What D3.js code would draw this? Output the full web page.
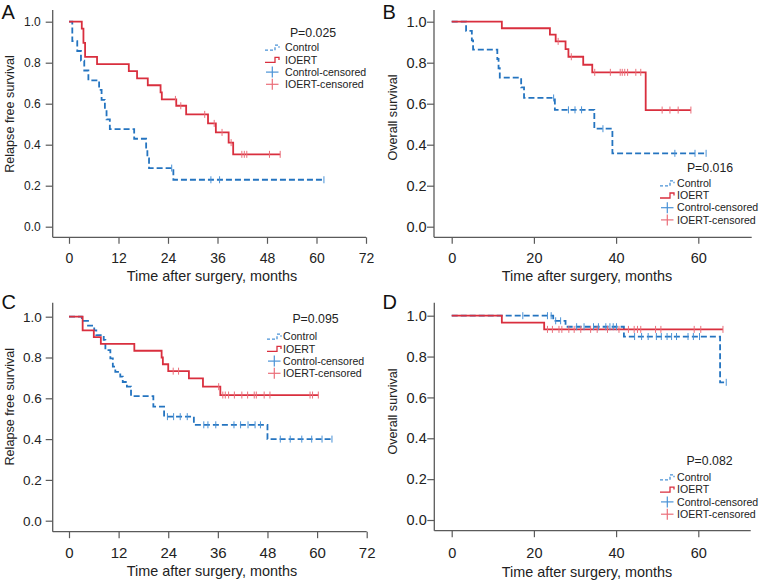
<!DOCTYPE html>
<html><head><meta charset="utf-8">
<script src="https://cdn.jsdelivr.net/npm/d3@7"></script>
<style>body{margin:0;background:#fff}svg{display:block;font-family:"Liberation Sans",Arial,Helvetica,sans-serif}</style>
</head><body><svg id="c" width="760" height="580"></svg>
<script>
// ---------- data ----------
const panelLetters = ["A", "B", "C", "D"];
const pLabels = ["P=0.025", "P=0.016", "P=0.095", "P=0.082"];
const yTitles = ["Relapse free survival", "Overall survival", "Relapse free survival", "Overall survival"];
const xTitle = "Time after surgery, months";
const legendLabels = ["Control", "IOERT", "Control-censored", "IOERT-censored"];
const yTicks = [0, 0.2, 0.4, 0.6, 0.8, 1.0];
const xTicks12 = [0, 12, 24, 36, 48, 60, 72];
const xTicks20 = [0, 20, 40, 60];

// Panel A (relapse free survival)
const aCtrlT = [0.8, 2.0, 2.9, 3.7, 4.7, 7.3, 7.9, 8.7, 9.1, 9.9, 15.8, 18.7, 19.0, 19.4, 25.3];
const aCtrlS = [0.905, 0.857, 0.810, 0.762, 0.714, 0.667, 0.619, 0.571, 0.524, 0.476, 0.429, 0.381, 0.333, 0.286, 0.229];
const aCtrlCens = [24.9, 34.4, 36.5, 61.8];
const aIoertT = [3.1, 3.5, 3.9, 6.8, 14.5, 16.5, 19.1, 22.2, 22.5, 26.0, 28.4, 33.7, 35.6, 38.7, 39.8];
const aIoertS = [0.966, 0.897, 0.828, 0.793, 0.759, 0.724, 0.690, 0.655, 0.621, 0.590, 0.548, 0.504, 0.460, 0.410, 0.353];
const aIoertCens = [25.8, 27.1, 32.9, 35.2, 37.1, 39.3, 41.9, 42.5, 43.1, 48.6, 51.2];

// Panel B (overall survival)
const bCtrlT = [3.5, 4.9, 5.2, 11.1, 11.4, 11.7, 16.9, 17.6, 25.1, 34.7, 39.1];
const bCtrlS = [0.955, 0.909, 0.864, 0.818, 0.773, 0.727, 0.680, 0.628, 0.570, 0.478, 0.358];
const bCtrlCens = [24.8, 28.4, 30.0, 31.6, 36.8, 54.3, 59.2, 61.9];
const bIoertT = [12.2, 23.9, 25.3, 27.7, 28.4, 32.0, 34.2, 47.2];
const bIoertS = [0.968, 0.937, 0.904, 0.866, 0.829, 0.790, 0.753, 0.569];
const bIoertCens = [25.9, 29.1, 34.8, 38.6, 41.0, 41.5, 42.1, 42.8, 44.8, 46.0, 51.2, 53.1, 55.1, 58.2];

// Panel C (relapse free survival)
const cCtrlT = [3.1, 4.6, 6.1, 6.6, 8.4, 8.8, 10.0, 10.6, 11.2, 12.4, 13.0, 14.0, 15.0, 20.4, 23.0, 30.2, 48.0];
const cCtrlS = [0.980, 0.956, 0.933, 0.910, 0.886, 0.836, 0.796, 0.755, 0.730, 0.706, 0.680, 0.657, 0.611, 0.559, 0.510, 0.470, 0.400];
const cCtrlCens = [23.8, 25.3, 26.9, 28.6, 32.6, 33.6, 35.5, 39.9, 41.5, 43.3, 45.0, 46.3, 51.1, 53.5, 56.3, 58.7, 61.2, 63.6];
const cIoertT = [3.3, 6.0, 7.7, 15.8, 22.4, 22.7, 24.0, 29.0, 32.4, 36.6];
const cIoertS = [0.933, 0.900, 0.867, 0.833, 0.800, 0.767, 0.733, 0.698, 0.657, 0.616];
const cIoertCens = [25.2, 26.5, 36.2, 37.2, 37.8, 38.6, 40.0, 41.8, 43.2, 44.8, 45.3, 47.2, 48.6, 58.3, 58.9, 60.3];

// Panel D (overall survival)
const dCtrlT = [24.7, 27.7, 41.9, 65.3];
const dCtrlS = [0.975, 0.946, 0.898, 0.674];
const dCtrlCens = [17.3, 23.3, 24.2, 25.3, 26.5, 30.4, 32.2, 34.5, 35.7, 37.5, 38.5, 39.3, 40.1, 44.5, 46.2, 47.8, 49.8, 51.0, 52.4, 53.5, 54.7, 57.5, 58.8, 60.3, 66.8];
const dIoertT = [12.2, 22.5];
const dIoertS = [0.966, 0.933];
const dIoertCens = [23.3, 24.5, 26.1, 26.8, 28.5, 29.8, 31.4, 33.8, 35.4, 37.9, 40.7, 43.0, 44.4, 45.2, 46.0, 49.6, 50.9, 59.0, 60.6, 66.0];

// ---------- layout ----------
const layout = [
  {xd:[0,72], xr:[69,366], spineX:[52.7,366], yr:[226.7,21.7], spineY:[237.3,10], xt:xTicks12,
   yLabR:40.7, yTickFs:12, xTickFs:14, xLabBase:262.7, xTitleX:212, xTitleBase:281,
   yTitle:[10,114], letter:[1.5,18.5],
   leg:{px:313, pb:36.5, sx:265, tx:285, ty:47.7, dy:12.2}},
  {xd:[0,60], xr:[451.7,698.3], spineX:[434,751.7], yr:[226.7,21.7], spineY:[237.3,10], xt:xTicks20,
   yLabR:426.7, yTickFs:14.5, xTickFs:14.5, xLabBase:263, xTitleX:587, xTitleBase:281,
   yTitle:[393,117.5], letter:[382.5,18.5],
   leg:{px:710, pb:172.3, sx:660, tx:677, ty:183.3, dy:12.2}},
  {xd:[0,72], xr:[69,366.7], spineX:[52.7,366.7], yr:[520.7,316.7], spineY:[531.7,302.7], xt:xTicks12,
   yLabR:41.7, yTickFs:13.5, xTickFs:15, xLabBase:558.3, xTitleX:212, xTitleBase:576,
   yTitle:[10,406.7], letter:[1.5,308.5],
   leg:{px:315.5, pb:323.3, sx:267, tx:283, ty:336.7, dy:12.2}},
  {xd:[0,60], xr:[451.7,698.3], spineX:[434.3,750.7], yr:[520,315.7], spineY:[530.7,302.7], xt:xTicks20,
   yLabR:426.7, yTickFs:14.5, xTickFs:14.5, xLabBase:558.3, xTitleX:587, xTitleBase:576.5,
   yTitle:[393,411.5], letter:[382.5,309],
   leg:{px:709.5, pb:465, sx:660, tx:677, ty:477.3, dy:12.3}}
];

const series = [
  {ct:aCtrlT, cs:aCtrlS, cc:aCtrlCens, it:aIoertT, is:aIoertS, ic:aIoertCens},
  {ct:bCtrlT, cs:bCtrlS, cc:bCtrlCens, it:bIoertT, is:bIoertS, ic:bIoertCens},
  {ct:cCtrlT, cs:cCtrlS, cc:cCtrlCens, it:cIoertT, is:cIoertS, ic:cIoertCens},
  {ct:dCtrlT, cs:dCtrlS, cc:dCtrlCens, it:dIoertT, is:dIoertS, ic:dIoertCens}
];

const RED = "#d92f3e", BLUE = "#2474c0";
const RED_L = "#ea6f7a", BLUE_L = "#4a92d6";
const AXIS = "#5a5a5a", TXT = "#222";

const svg = d3.select("#c");

function survAt(T, S, t) {
  let s = 1;
  for (let i = 0; i < T.length; i++) if (T[i] <= t) s = S[i];
  return s;
}

function stepPath(x, y, T, S, cens) {
  const end = Math.max(d3.max(T), d3.max(cens));
  let d = `M${x(0)},${y(1)}`;
  T.forEach((t, i) => { d += `H${x(t)}V${y(S[i])}`; });
  d += `H${x(end)}`;
  return d;
}

layout.forEach((L, k) => {
  const D = series[k];
  const g = svg.append("g");
  const x = d3.scaleLinear().domain(L.xd).range(L.xr);
  const y = d3.scaleLinear().domain([0, 1]).range(L.yr);

  // spines
  g.append("line").attr("x1", L.spineX[0]).attr("x2", L.spineX[1])
    .attr("y1", L.spineY[0]).attr("y2", L.spineY[0]).attr("stroke", AXIS).attr("stroke-width", 1.3);
  g.append("line").attr("x1", L.spineX[0]).attr("x2", L.spineX[0])
    .attr("y1", L.spineY[0]).attr("y2", L.spineY[1]).attr("stroke", AXIS).attr("stroke-width", 1.3);

  // y axis
  const ya = g.append("g").attr("transform", `translate(${L.spineX[0]},0)`)
    .call(d3.axisLeft(y).tickValues(yTicks).tickFormat(d3.format(".1f")).tickSize(7).tickSizeOuter(0)
      .tickPadding(L.spineX[0] - 7 - L.yLabR));
  ya.select(".domain").remove();
  ya.selectAll(".tick line").attr("stroke", AXIS).attr("stroke-width", 1.2);
  ya.selectAll(".tick text").attr("fill", TXT).style("font-size", L.yTickFs + "px")
    .style("font-family", '"Liberation Sans",Arial,sans-serif');

  // x axis
  const xa = g.append("g").attr("transform", `translate(0,${L.spineY[0]})`)
    .call(d3.axisBottom(x).tickValues(L.xt).tickFormat(d3.format("d")).tickSize(6.5).tickSizeOuter(0));
  xa.select(".domain").remove();
  xa.selectAll(".tick line").attr("stroke", AXIS).attr("stroke-width", 1.2);
  xa.selectAll(".tick text").attr("fill", TXT).style("font-size", L.xTickFs + "px")
    .style("font-family", '"Liberation Sans",Arial,sans-serif')
    .attr("y", L.xLabBase - L.spineY[0]).attr("dy", null);

  // titles
  g.append("text").attr("x", L.xTitleX).attr("y", L.xTitleBase).attr("text-anchor", "middle")
    .attr("fill", TXT).style("font-size", "14.4px").text(xTitle);
  g.append("text").attr("transform", `translate(${L.yTitle[0]},${L.yTitle[1]}) rotate(-90)`)
    .attr("text-anchor", "middle").attr("dy", "0.35em").attr("fill", TXT)
    .style("font-size", "12.6px").text(yTitles[k]);
  g.append("text").attr("x", L.letter[0]).attr("y", L.letter[1]).attr("fill", "#111")
    .style("font-size", "20px").text(panelLetters[k]);

  // curves
  g.append("path").attr("d", stepPath(x, y, D.ct, D.cs, D.cc)).attr("fill", "none")
    .attr("stroke", BLUE).attr("stroke-width", 1.8).attr("stroke-dasharray", "6,3");
  g.append("path").attr("d", stepPath(x, y, D.it, D.is, D.ic)).attr("fill", "none")
    .attr("stroke", RED).attr("stroke-width", 1.8);

  // censor marks
  g.selectAll(".cc").data(D.cc).enter().append("line")
    .attr("x1", t => x(t)).attr("x2", t => x(t))
    .attr("y1", t => y(survAt(D.ct, D.cs, t)) - 3.5).attr("y2", t => y(survAt(D.ct, D.cs, t)) + 3.5)
    .attr("stroke", BLUE_L).attr("stroke-width", 1);
  g.selectAll(".ic").data(D.ic).enter().append("line")
    .attr("x1", t => x(t)).attr("x2", t => x(t))
    .attr("y1", t => y(survAt(D.it, D.is, t)) - 3.5).attr("y2", t => y(survAt(D.it, D.is, t)) + 3.5)
    .attr("stroke", RED_L).attr("stroke-width", 1);

  // legend
  const lg = L.leg;
  g.append("text").attr("x", lg.px).attr("y", lg.pb).attr("text-anchor", "middle")
    .attr("fill", TXT).style("font-size", "12.3px").text(pLabels[k]);
  legendLabels.forEach((lab, i) => {
    const cy = lg.ty + i * lg.dy;
    g.append("text").attr("x", lg.tx).attr("y", cy).attr("dy", "0.35em").attr("fill", TXT)
      .style("font-size", "10.6px").text(lab);
    const sx = lg.sx;
    if (i < 2) {
      g.append("path").attr("d", `M${sx},${cy + 2.5}H${sx + 10}V${cy - 2.5}H${sx + 14}V${cy}`)
        .attr("fill", "none").attr("stroke", i === 0 ? BLUE_L : RED).attr("stroke-width", 1.3)
        .attr("stroke-dasharray", i === 0 ? "3,2" : null);
    } else {
      const c = i === 2 ? BLUE_L : RED_L;
      g.append("line").attr("x1", sx + 1).attr("x2", sx + 13.5).attr("y1", cy).attr("y2", cy)
        .attr("stroke", c).attr("stroke-width", 1.2);
      g.append("line").attr("x1", sx + 7.3).attr("x2", sx + 7.3).attr("y1", cy - 5.5).attr("y2", cy + 5.5)
        .attr("stroke", c).attr("stroke-width", 1.2);
    }
  });
});
</script>
</body></html>
